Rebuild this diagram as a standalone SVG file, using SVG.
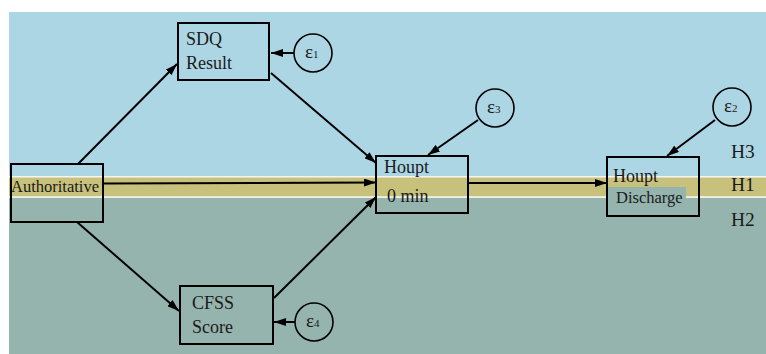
<svg xmlns="http://www.w3.org/2000/svg" width="766" height="354" viewBox="0 0 766 354">
<style>
.box{fill:none;stroke:#000;stroke-width:2}
.err{fill:none;stroke:#000;stroke-width:1.6}
.t{font-family:"Liberation Serif","Times New Roman",serif;font-size:18px;fill:#1a1a1a}
.ts{font-family:"Liberation Serif","Times New Roman",serif;font-size:16.5px;fill:#1a1a1a}
.e{font-family:"Liberation Serif","Times New Roman",serif;font-size:19px;fill:#1a1a1a}
.es{font-size:11px}
.h{font-family:"Liberation Serif","Times New Roman",serif;font-size:19.5px;fill:#1a1a1a}
.c{fill:none;stroke:#000;stroke-width:2;marker-end:url(#ah)}
</style>
<defs>
<marker id="ah" viewBox="0 0 12 8" refX="12" refY="4" markerWidth="12" markerHeight="8" markerUnits="userSpaceOnUse" orient="auto">
<path d="M0,0 L12,4 L0,8 Z" fill="#000"/>
</marker>
</defs>
<rect width="766" height="354" fill="#fff"/>
<g id="bands">
<rect x="9" y="12" width="757" height="165" fill="#add6e5"/>
<rect x="9" y="176" width="757" height="1.5" fill="#f4f4f0"/>
<rect x="9" y="177.5" width="757" height="19" fill="#c8c17c"/>
<rect x="9" y="196.5" width="757" height="1.5" fill="#f0f0ea"/>
<rect x="9" y="198" width="757" height="156" fill="#95b4ad"/>
<rect x="607" y="187" width="79" height="11" fill="#95b4ad"/>
<text class="h" x="731" y="158">H3</text>
<text class="h" x="731" y="191">H1</text>
<text class="h" x="731" y="226">H2</text>
</g>
<g id="connectors">
<line class="c" x1="78" y1="164" x2="177" y2="64"/>
<line class="c" x1="271" y1="73" x2="376" y2="163"/>
<line class="c" x1="103" y1="183.5" x2="376" y2="182.5"/>
<line class="c" x1="77" y1="222" x2="179" y2="311"/>
<line class="c" x1="274" y1="298" x2="376" y2="197"/>
<line class="c" x1="468" y1="183" x2="607" y2="183"/>
<line class="c" x1="294" y1="53" x2="271" y2="53"/>
<line class="c" x1="478" y1="120" x2="428" y2="155"/>
<line class="c" x1="715" y1="120" x2="667" y2="156"/>
<line class="c" x1="295" y1="322" x2="274" y2="322"/>
</g>
<g id="sdq">
<rect class="box" x="178" y="23" width="91" height="57"/>
<text class="t" x="186" y="45">SDQ</text>
<text class="t" x="186" y="69">Result</text>
</g>
<g id="e1">
<circle class="err" cx="313" cy="53" r="19"/>
<text class="e" x="305" y="58">ε<tspan class="es">1</tspan></text>
</g>
<g id="authoritative">
<rect class="box" x="11" y="164" width="92" height="58"/>
<text class="ts" x="11" y="192">Authoritative</text>
</g>
<g id="houpt0">
<rect class="box" x="376" y="156" width="92" height="57"/>
<text class="t" x="384" y="173">Houpt</text>
<text class="t" x="387" y="202">0 min</text>
</g>
<g id="e3">
<circle class="err" cx="495" cy="108" r="19"/>
<text class="e" x="487" y="113">ε<tspan class="es">3</tspan></text>
</g>
<g id="houptd">
<rect class="box" x="607" y="157" width="92" height="59"/>
<text class="t" x="613" y="182">Houpt</text>
<text class="ts" x="616" y="203">Discharge</text>
</g>
<g id="e2">
<circle class="err" cx="732" cy="107" r="19"/>
<text class="e" x="724" y="112">ε<tspan class="es">2</tspan></text>
</g>
<g id="cfss">
<rect class="box" x="180" y="286" width="93" height="58"/>
<text class="t" x="192" y="309">CFSS</text>
<text class="t" x="192" y="333">Score</text>
</g>
<g id="e4">
<circle class="err" cx="314" cy="322" r="19"/>
<text class="e" x="306" y="327">ε<tspan class="es">4</tspan></text>
</g>
</svg>
